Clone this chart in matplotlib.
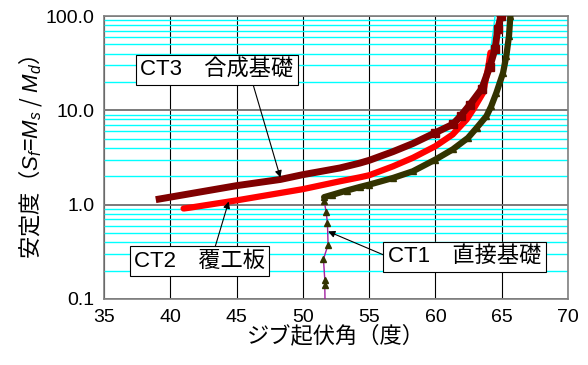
import matplotlib
matplotlib.use("Agg")
import matplotlib.pyplot as plt
from matplotlib.ticker import NullFormatter, LogLocator

plt.rcParams['font.family'] = ['Liberation Sans', 'Noto Sans CJK JP', 'DejaVu Sans']
plt.rcParams['mathtext.fontset'] = 'custom'
plt.rcParams['mathtext.it'] = 'Liberation Sans:italic'
plt.rcParams['mathtext.rm'] = 'Liberation Sans'

# CT1 直接基礎 (olive, triangles)
ct1_angle = [51.7, 51.65, 51.65, 51.55, 51.9, 51.85, 51.75, 51.6, 51.6, 52.2, 53.3, 54.3, 55.0,
             56.8, 58.3, 60.0, 61.3, 62.45, 63.1, 63.85, 64.2, 64.6, 65.1, 65.35, 65.55, 65.65]
ct1_sf = [0.05, 0.14, 0.16, 0.265, 0.375, 0.64, 0.84, 1.1, 1.2, 1.27, 1.41, 1.54, 1.63,
          1.92, 2.26, 3.01, 3.85, 5.1, 6.5, 8.7, 11.0, 15.4, 25.0, 38.0, 62.0, 100.0]

# CT2 覆工板 (red)
ct2_angle = [41.0, 41.5, 45.0, 48.3, 50.0, 52.8, 54.3, 55.0, 56.8, 58.3, 60.0, 61.3,
             62.35, 62.9, 63.6, 64.0, 64.15]
ct2_sf = [0.91, 0.93, 1.11, 1.33, 1.46, 1.77, 1.95, 2.05, 2.55, 3.14, 4.17, 5.55,
          8.0, 10.5, 15.4, 29.7, 41.0]
ct2_tail_angle = [64.15, 64.5]
ct2_tail_sf = [41.0, 100.0]

# CT3 合成基礎 (maroon)
ct3_angle = [38.9, 45.0, 48.3, 50.0, 51.5, 52.8, 54.3, 55.0, 56.8, 58.3, 60.0, 61.3, 61.9,
             62.6, 63.5, 64.1, 64.5, 64.7, 64.95]
ct3_sf = [1.13, 1.59, 1.85, 2.08, 2.27, 2.45, 2.76, 2.95, 3.65, 4.45, 5.8, 7.1, 8.7,
          11.5, 17.0, 29.0, 45.0, 73.0, 100.0]

x_ticks = [35, 40, 45, 50, 55, 60, 65, 70]
y_ticks = [0.1, 1, 10, 100]
y_labels = ["0.1", "1.0", "10.0", "100.0"]

fig = plt.figure(figsize=(5.88, 3.65), dpi=100)
ax = fig.add_axes([0.177, 0.181, 0.789, 0.775])
ax.set_yscale("log")
ax.set_xlim(35, 70)
ax.set_ylim(0.1, 100)

# grid
ax.yaxis.set_minor_locator(LogLocator(base=10, subs=range(2, 10)))
ax.yaxis.set_minor_formatter(NullFormatter())
ax.grid(True, which="minor", axis="y", color="#00FFFF", lw=1.0, zorder=0)
ax.grid(True, which="major", axis="y", color="#707070", lw=1.3, zorder=0)
ax.grid(True, which="major", axis="x", color="black", lw=0.8, zorder=0)
ax.set_axisbelow(True)
for s in ax.spines.values():
    s.set_color("#808080")
    s.set_linewidth(1.2)

ax.set_xticks(x_ticks)
ax.set_yticks(y_ticks)
ax.set_yticklabels(y_labels)
ax.tick_params(which="both", length=0, labelsize=14, pad=7)

# CT1
top = [i for i, v in enumerate(ct1_sf) if v >= 1.15]
ax.plot(ct1_angle, ct1_sf, color="#A020A0", lw=1.0, zorder=3)
ax.plot([ct1_angle[i] for i in top], [ct1_sf[i] for i in top],
        color="#333300", lw=4.5, solid_capstyle="round", zorder=3)
ax.plot(ct1_angle, ct1_sf, ls="none", marker="^", ms=4.5, color="#333300", zorder=4)

# CT2
ax.plot(ct2_tail_angle, ct2_tail_sf, color="#00FFFF", lw=1.0, zorder=3)
ax.plot(ct2_angle, ct2_sf, color="#FF0000", lw=4.5, solid_capstyle="round", zorder=4)

# CT3
ax.plot(ct3_angle, ct3_sf, color="#800000", lw=5, solid_capstyle="butt", zorder=5)
ax.plot(ct3_angle[10:], ct3_sf[10:], ls="none", marker="s", ms=6, color="#800000", zorder=5)

box = dict(boxstyle="square,pad=0.2", fc="white", ec="black", lw=0.8)
arr = dict(arrowstyle="-|>", color="black", lw=0.8, mutation_scale=10, shrinkA=0, shrinkB=0)

ax.annotate("CT3　合成基礎", xy=(48.3, 1.94), xytext=(43.5, 26.6),
            fontsize=16, ha="center", va="center", bbox=box,
            arrowprops=dict(arr, relpos=(0.73, 0.0)), zorder=6)
ax.annotate("CT2　覆工板", xy=(44.4, 1.08), xytext=(42.2, 0.25),
            fontsize=16, ha="center", va="center", bbox=box,
            arrowprops=dict(arr, relpos=(0.61, 1.0)), zorder=6)
ax.annotate("CT1　直接基礎", xy=(51.9, 0.52), xytext=(62.2, 0.28),
            fontsize=16, ha="center", va="center", bbox=box,
            arrowprops=dict(arr, relpos=(0.0, 0.5)), zorder=6)

ax.set_xlabel("ジブ起伏角（度）", fontsize=16, labelpad=0)
ax.set_ylabel(r"安定度（$S_f$=$M_s$ / $M_d$）", fontsize=16, labelpad=1,
              fontfamily="Noto Sans CJK JP")

fig.savefig("out.png", dpi=100)
